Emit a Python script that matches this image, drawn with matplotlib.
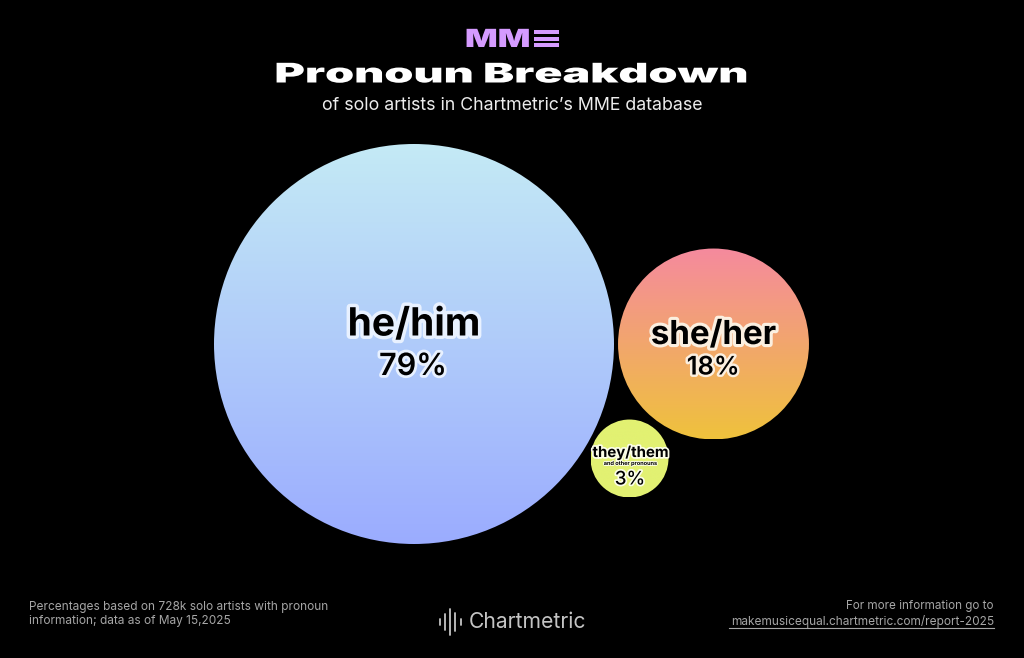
import numpy as np
import matplotlib
matplotlib.use("Agg")
import matplotlib.pyplot as plt
from matplotlib.colors import LinearSegmentedColormap
from matplotlib.patches import Circle, Rectangle
from matplotlib.patheffects import AbstractPathEffect, withStroke
from matplotlib.transforms import Affine2D

# data
labels = ["he/him", "she/her", "they/them"]
values = [79, 18, 3]
pct_labels = ["79%", "18%", "3%"]
sublabel = "and other pronouns"
title = "Pronoun Breakdown"
subtitle = "of solo artists in Chartmetric\u2019s MME database"
note = "Percentages based on 728k solo artists with pronoun\ninformation; data as of May 15,2025"
more = "For more information go to"
link = "makemusicequal.chartmetric.com/report-2025"

# layout, in pixels of the picture
centres = [(414, 344), (713.5, 344), (629.5, 458.5)]
colours = [("#C4EAF5", "#9BACFF"), ("#F58A9E", "#EFC23C"), ("#E2F172", "#E2F172")]
halos = ["#E8F1FF", "#FBEFE0", "#FBFDE8"]
rscale = 200 / np.sqrt(values[0])


class Stretch(AbstractPathEffect):
    # etire le texte en largeur autour de cx (fonte large absente)
    def __init__(self, sx, cx):
        super().__init__()
        self.sx = sx
        self.cx = cx

    def draw_path(self, renderer, gc, tpath, affine, rgbFace=None):
        t = affine + Affine2D().translate(-self.cx, 0).scale(self.sx, 1).translate(self.cx, 0)
        renderer.draw_path(gc, tpath, t, rgbFace)


plt.rcParams["font.family"] = ["Inter", "DejaVu Sans"]
fig = plt.figure(figsize=(10.24, 6.58), dpi=100, facecolor="black")
ax = fig.add_axes([0, 0, 1, 1])
ax.set_xlim(0, 1024)
ax.set_ylim(658, 0)
ax.axis("off")

for i in range(len(values)):
    r = rscale * np.sqrt(values[i])
    x, y = centres[i]
    cmap = LinearSegmentedColormap.from_list("g", colours[i])
    grad = np.linspace(0, 1, 256).reshape(-1, 1)
    im = ax.imshow(grad, cmap=cmap, extent=(x - r, x + r, y + r, y - r), aspect="auto", zorder=1)
    im.set_clip_path(Circle((x, y), r, transform=ax.transData))
ax.set_xlim(0, 1024)
ax.set_ylim(658, 0)

# etiquettes des cercles
ax.text(414, 325, labels[0], fontsize=28, fontweight="bold", color="black", ha="center", va="center",
        path_effects=[withStroke(linewidth=5, foreground=halos[0])], zorder=3)
ax.text(413, 367, pct_labels[0], fontsize=22, fontweight="semibold", color="black", ha="center", va="center",
        path_effects=[withStroke(linewidth=4, foreground=halos[0])], zorder=3)
ax.text(713.5, 335.5, labels[1], fontsize=23.8, fontweight="bold", color="black", ha="center", va="center",
        path_effects=[withStroke(linewidth=4.5, foreground=halos[1])], zorder=3)
ax.text(713, 368, pct_labels[1], fontsize=18.4, fontweight="semibold", color="black", ha="center", va="center",
        path_effects=[withStroke(linewidth=3.5, foreground=halos[1])], zorder=3)
ax.text(630.5, 453, labels[2], fontsize=10.8, fontweight="bold", color="black", ha="center", va="center",
        path_effects=[withStroke(linewidth=2.5, foreground=halos[2])], zorder=3)
ax.text(630.5, 463.5, sublabel, fontsize=4, fontweight="bold", color="black", ha="center", va="center",
        path_effects=[withStroke(linewidth=1.2, foreground=halos[2])], zorder=3)
ax.text(630, 480, pct_labels[2], fontsize=13.5, fontweight="medium", color="black", ha="center", va="center",
        path_effects=[withStroke(linewidth=2.5, foreground=halos[2])], zorder=3)

# logo MME
ax.text(497.5, 40.5, "MM", fontsize=18, fontweight="black", color="#D59BFF", ha="center", va="center",
        path_effects=[Stretch(1.37, 497.5)])
for yb in [30, 36.5, 43]:
    ax.add_patch(Rectangle((534, yb), 25, 4.3, color="#D59BFF", lw=0))

# titres
ax.text(512, 75.5, title, fontsize=19.5, fontweight="black", color="white", ha="center", va="center",
        path_effects=[Stretch(1.717, 512)])
ax.text(512, 105, subtitle, fontsize=12.8, color="#EDEDED", ha="center", va="center")

# pied de page
ax.text(29, 614, note, fontsize=8.55, color="#A6A6A6", ha="left", va="center", linespacing=1.3)
ax.text(994, 606, more, fontsize=8.4, color="#A6A6A6", ha="right", va="center")
ax.text(994, 621, link, fontsize=8.55, color="#A6A6A6", ha="right", va="center")
ax.plot([729, 994], [627.5, 627.5], color="#A6A6A6", lw=0.8)

# logo Chartmetric
bars_x = [440, 445, 450, 455, 460.5]
bars_h = [3, 8, 13, 9, 3]
for bx, bh in zip(bars_x, bars_h):
    ax.plot([bx, bx], [622 - bh, 622 + bh], color="#C4C4C4", lw=1.3, solid_capstyle="round")
ax.text(469, 622, "Chartmetric", fontsize=15.2, color="#C4C4C4", ha="left", va="center")

fig.savefig("out.png", dpi=100, facecolor="black")
